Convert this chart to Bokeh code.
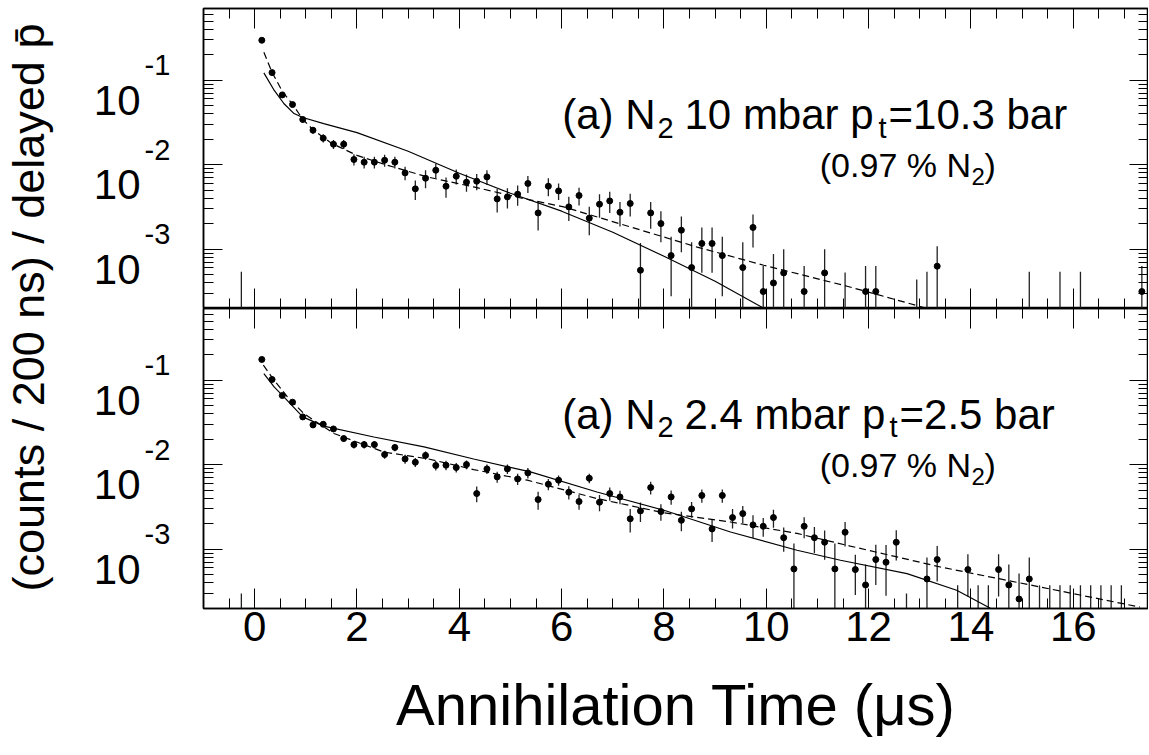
import numpy as np
from math import pi
from bokeh.plotting import figure
from bokeh.models import Range1d, FixedTicker, LinearAxis, LogAxis, Label, CustomJSTickFormatter
from bokeh.core.properties import value
from bokeh.layouts import row, column
from bokeh.embed import file_html
from bokeh.resources import INLINE

FONT = "Liberation Sans"

# ---------------- data: upper panel (N2 10 mbar, pt = 10.3 bar) ----------------
top_t = [0.14, 0.34, 0.54, 0.74, 0.94, 1.14, 1.34, 1.54, 1.74, 1.94,
         2.14, 2.34, 2.54, 2.74, 2.94, 3.14, 3.34, 3.54, 3.74, 3.94,
         4.14, 4.34, 4.54, 4.74, 4.94, 5.14, 5.34, 5.54, 5.74, 5.94,
         6.14, 6.34, 6.54, 6.74, 6.94, 7.14, 7.34, 7.54, 7.74, 7.94,
         8.14, 8.34, 8.54, 8.74, 8.94, 9.14,
         9.54, 9.74, 9.94, 10.14, 10.34, 10.74, 11.14, 11.94, 12.14, 13.34, 17.34]
top_y = [0.297, 0.123, 0.0670, 0.0515, 0.0343, 0.0256, 0.0206, 0.0175, 0.0175, 0.01153,
         0.01072, 0.01072, 0.01130, 0.01072, 0.0080, 0.00518, 0.00692, 0.00861, 0.00557, 0.00731,
         0.00621, 0.00638, 0.00718, 0.00394, 0.00416, 0.00448, 0.00600, 0.00269, 0.00557, 0.00490,
         0.00317, 0.00432, 0.00233, 0.00341, 0.00373, 0.00274, 0.00348, 5.64e-4, 0.00269, 0.00201,
         8.41e-4, 0.00168, 6.07e-4, 0.00117, 0.00117, 8.41e-4,
         6.07e-4, 0.00181, 3.16e-4, 3.99e-4, 5.25e-4, 3.16e-4, 5.25e-4, 3.16e-4, 3.16e-4, 6.30e-4, 3.16e-4]
top_rel_err = [0.03, 0.05, 0.06, 0.07, 0.08, 0.09, 0.11, 0.12, 0.12, 0.15,
               0.16, 0.16, 0.16, 0.16, 0.18, 0.26, 0.24, 0.19, 0.27, 0.20,
               0.23, 0.22, 0.20, 0.31, 0.27, 0.27, 0.23, 0.38, 0.24, 0.22,
               0.32, 0.24, 0.37, 0.31, 0.28, 0.32, 0.30, 1.10, 0.35, 0.40,
               0.67, 0.45, 1.00, 0.55, 0.55, 0.67,
               1.00, 0.42, 1.00, 1.20, 0.90, 1.00, 0.90, 1.00, 1.00, 0.72, 1.00]
# bins with no content: only an upper error bar is visible
top_empty_t = [-0.26, 11.54, 12.94, 13.14, 15.14, 15.74, 16.14]
top_empty_up = [5.4e-4, 5.3e-4, 4.4e-4, 5.4e-4, 5.4e-4, 5.4e-4, 5.4e-4]
# curves
top_solid_t = [0.18, 0.38, 0.57, 0.77, 0.94, 1.35, 2.0, 3.0, 4.0, 5.0, 6.0, 7.0, 8.0, 9.0, 10.0]
top_solid_y = [0.122, 0.0762, 0.0530, 0.0403, 0.0362, 0.0307, 0.0240, 0.01444, 0.00793, 0.00460,
               0.00282, 0.00159, 8.26e-4, 4.18e-4, 1.93e-4]
top_dash_t = [0.18, 0.34, 0.55, 0.74, 0.94, 1.15, 1.5, 2.0, 2.53, 3.37, 4.28, 5.26, 6.04, 7.34,
              8.65, 9.95, 11.58, 12.1, 13.2]
top_dash_y = [0.214, 0.124, 0.0721, 0.052, 0.0345, 0.0256, 0.0180, 0.0129, 0.01013, 0.00718,
              0.00546, 0.00398, 0.00317, 0.00184, 0.00106, 6.47e-4, 3.65e-4, 2.99e-4, 1.95e-4]

# ---------------- data: lower panel (N2 2.4 mbar, pt = 2.5 bar) ----------------
bot_t = [0.14, 0.34, 0.54, 0.74, 0.94, 1.14, 1.34, 1.54, 1.74, 1.94,
         2.14, 2.34, 2.54, 2.74, 2.94, 3.14, 3.34, 3.54, 3.74, 3.94,
         4.14, 4.34, 4.54, 4.74, 4.94, 5.14, 5.34, 5.54, 5.74, 5.94,
         6.14, 6.34, 6.54, 6.74, 6.94, 7.14, 7.34, 7.54, 7.74, 7.94,
         8.14, 8.34, 8.54, 8.74, 8.94, 9.14, 9.34, 9.54, 9.74, 9.94,
         10.14, 10.34, 10.54, 10.74, 10.94, 11.14, 11.34, 11.54, 11.74, 11.94,
         12.14, 12.34, 12.54,
         13.14, 13.34, 13.94, 14.54, 14.74, 14.94, 15.14]
bot_y = [0.176, 0.102, 0.0659, 0.055, 0.0368, 0.0296, 0.0301, 0.0265, 0.0204, 0.0173,
         0.0173, 0.0173, 0.0132, 0.0160, 0.0117, 0.0107, 0.0129, 0.00979, 0.00987, 0.00927,
         0.01005, 0.00456, 0.00892, 0.00718, 0.00892, 0.00679, 0.00800, 0.00387, 0.00588, 0.00656,
         0.00473, 0.00367, 0.00692, 0.00360, 0.00456, 0.00416, 0.00229, 0.00284, 0.00537, 0.00279,
         0.00416, 0.00220, 0.00300, 0.00433, 0.00174, 0.00433, 0.00237, 0.00264, 0.00194, 0.00187,
         0.00237, 0.00137, 5.85e-4, 0.00187, 0.00137, 0.00121, 5.85e-4, 0.00159, 5.75e-4, 3.78e-4,
         7.55e-4, 7.02e-4, 0.00121,
         4.45e-4, 7.55e-4, 5.75e-4, 5.75e-4, 3.78e-4, 2.58e-4, 4.45e-4]
bot_rel_err = [0.03, 0.04, 0.05, 0.05, 0.06, 0.07, 0.07, 0.08, 0.09, 0.10,
               0.10, 0.10, 0.11, 0.10, 0.12, 0.12, 0.11, 0.13, 0.13, 0.13,
               0.12, 0.21, 0.13, 0.15, 0.13, 0.15, 0.14, 0.24, 0.15, 0.14,
               0.18, 0.20, 0.13, 0.22, 0.18, 0.18, 0.31, 0.26, 0.17, 0.22,
               0.19, 0.26, 0.21, 0.18, 0.30, 0.18, 0.26, 0.23, 0.30, 0.25,
               0.24, 0.32, 1.00, 0.28, 0.34, 0.38, 1.00, 0.32, 0.50, 0.75,
               0.50, 0.60, 0.39,
               0.80, 0.45, 0.52, 0.52, 0.75, 1.00, 0.80]
bot_empty_t = [-0.26, 12.74, 13.74, 14.14, 14.34, 15.34, 15.54, 15.74, 15.94, 16.14, 16.34, 16.54, 16.74, 16.94]
bot_empty_up = [3.0e-4, 3.0e-4, 3.75e-4, 3.75e-4, 3.75e-4, 3.75e-4, 3.75e-4, 3.75e-4, 3.75e-4,
                3.75e-4, 3.75e-4, 3.75e-4, 3.75e-4, 3.75e-4]
bot_solid_t = [0.18, 0.38, 0.57, 0.94, 1.35, 2.33, 3.31, 4.28, 5.39, 6.69, 8.0, 9.3, 10.6, 11.45,
               12.75, 13.72, 14.38]
bot_solid_y = [0.12, 0.0834, 0.0636, 0.0368, 0.0286, 0.0213, 0.0163, 0.0117, 0.00822, 0.00476,
               0.00289, 0.0016, 9.72e-4, 7.41e-4, 5.15e-4, 3.27e-4, 2.0e-4]
bot_dash_t = [0.17, 0.38, 0.64, 0.96, 1.55, 2.53, 3.37, 4.28, 5.33, 6.69, 8.0, 9.3, 10.6, 11.64,
              13.4, 15.35, 17.3]
bot_dash_y = [0.151, 0.1, 0.0636, 0.0403, 0.0234, 0.0141, 0.0118, 0.00877, 0.00656, 0.00398,
              0.00270, 0.0021, 0.00154, 0.00109, 6.17e-4, 3.58e-4, 2.07e-4]

# ---------------- axes / labels ----------------
x_major_ticks = [0, 2, 4, 6, 8, 10, 12, 14, 16]
x_minor_ticks = [v * 0.5 for v in range(-2, 36)]
y_major_ticks = [1e-3, 1e-2, 1e-1]
y_tick_base = ["10", "10", "10"]
y_tick_exponents = ["-3", "-2", "-1"]
y_minor_ticks = [m * 10.0 ** e for e in (-4, -3, -2, -1) for m in range(2, 10)]
x_title = "Annihilation Time (\u03bcs)"
y_title = "(counts / 200 ns) / delayed p\u0304"

# text pieces: (text, page x, drop below baseline, font px)
top_text = [("(a) N", 561.7, 0, 42), ("2", 657, 13, 29), ("10 mbar p", 684, 0, 42),
            ("t", 878, 13, 29), ("=10.3 bar", 888, 0, 42)]
bot_text = [("(a) N", 561.7, 0, 42), ("2", 657, 13, 29), ("2.4 mbar p", 684, 0, 42),
            ("t", 889, 13, 29), ("=2.5 bar", 899, 0, 42)]
sub_text = [("(0.97 % N", 819.3, 0, 34), ("2", 971, 12, 24), (")", 984, 0, 34)]

Y_LO, Y_HI = 1.99e-4, 0.7056
X_RANGE = Range1d(-1.0, 17.47)
TITLE_W = 63          # page x 0..63   : y-axis title
LAB_W = 135           # page x 63..198 : tick labels 10^n
FRAME_LEFT = 203      # page x of the plot frame's left edge
TOP_PAD = 8


def style_axis(ax, major_in, minor_in, labels=False):
    ax.axis_line_color = "black"
    ax.axis_line_width = 1.5
    ax.major_tick_line_color = "black"
    ax.minor_tick_line_color = "black"
    ax.major_tick_line_width = 1
    ax.minor_tick_line_width = 1
    ax.major_tick_in = major_in
    ax.major_tick_out = 0
    ax.minor_tick_in = minor_in
    ax.minor_tick_out = 0
    if not labels:
        ax.formatter = CustomJSTickFormatter(code="return ''")
        ax.major_label_text_font_size = "0px"
        ax.major_label_standoff = 0


def make_panel(t, y, rel, et, eup, st, sy, dt, dy, line1, base1, base2, frame_top, bottom):
    p = figure(width=FRAME_LEFT - TITLE_W - LAB_W + 945, frame_height=300, x_range=X_RANGE,
               y_range=Range1d(Y_LO, Y_HI), y_axis_type="log", output_backend="svg",
               toolbar_location=None, min_border_left=FRAME_LEFT - TITLE_W - LAB_W,
               min_border_right=0, min_border_top=TOP_PAD if not bottom else 0,
               min_border_bottom=0, background_fill_color="white", border_fill_color="white")
    p.xgrid.visible = False
    p.ygrid.visible = False
    p.outline_line_color = "black"
    p.outline_line_width = 1.5

    xt = FixedTicker(ticks=x_major_ticks, minor_ticks=x_minor_ticks)
    yt = FixedTicker(ticks=y_major_ticks, minor_ticks=y_minor_ticks)

    p.xaxis.ticker = xt
    style_axis(p.xaxis[0], 20, 10, labels=bottom)
    if bottom:
        p.xaxis.major_label_text_font = FONT
        p.xaxis.major_label_text_font_size = "42px"
        p.xaxis.major_label_text_color = "black"
        p.xaxis.major_label_standoff = 3
        p.xaxis.axis_label = x_title
        p.xaxis.axis_label_text_font = FONT
        p.xaxis.axis_label_text_font_size = "58px"
        p.xaxis.axis_label_text_font_style = "normal"
        p.xaxis.axis_label_text_color = "black"
        p.xaxis.axis_label_standoff = 28
    p.yaxis.ticker = yt
    style_axis(p.yaxis[0], 19, 10)

    top_ax = LinearAxis(ticker=xt)
    style_axis(top_ax, 20, 10)
    p.add_layout(top_ax, "above")
    right_ax = LogAxis(ticker=yt)
    style_axis(right_ax, 19, 10)
    p.add_layout(right_ax, "right")

    # data
    t = np.asarray(t, float)
    y = np.asarray(y, float)
    r = np.asarray(rel, float)
    lo = np.clip(y * (1 - r), 1e-7, None)
    hi = y * (1 + r)
    p.segment(x0=t, y0=lo, x1=t, y1=hi, line_color="#222222", line_width=1.3)
    p.segment(x0=et, y0=[1e-7] * len(et), x1=et, y1=eup, line_color="#222222", line_width=1.3)
    p.line(st, sy, line_color="black", line_width=1.2)
    p.line(dt, dy, line_color="black", line_width=1.2, line_dash="7 4")
    p.scatter(t, y, size=6, color="black")

    # panel annotations (inside the frame)
    for pieces, base in ((line1, base1), (sub_text, base2)):
        for txt, px, drop, fs in pieces:
            p.add_layout(Label(x=px - FRAME_LEFT, y=(frame_top + 300) - (base + drop),
                               x_units="screen", y_units="screen", text=txt,
                               text_align="left", text_baseline="alphabetic",
                               text_font=FONT, text_font_size=f"{fs}px", text_color="black"))
    return p


def make_tick_labels(pad_top):
    f = figure(width=LAB_W, frame_height=300, x_range=Range1d(TITLE_W, TITLE_W + LAB_W),
               y_range=Range1d(Y_LO, Y_HI), y_axis_type="log", output_backend="svg",
               toolbar_location=None, x_axis_location=None, y_axis_location=None,
               min_border_left=0, min_border_right=0, min_border_top=pad_top, min_border_bottom=0,
               outline_line_color=None, background_fill_color="white", border_fill_color="white")
    f.xgrid.visible = False
    f.ygrid.visible = False
    n = len(y_major_ticks)
    f.text(x=[140] * n, y=y_major_ticks, text=y_tick_base, text_align="right",
           text_baseline="alphabetic", y_offset=20, text_font=value(FONT),
           text_font_size="42px", text_color="black")
    f.text(x=[144] * n, y=y_major_ticks, text=y_tick_exponents, text_align="left",
           text_baseline="alphabetic", y_offset=-15, text_font=value(FONT),
           text_font_size="29px", text_color="black")
    return f


top = make_panel(top_t, top_y, top_rel_err, top_empty_t, top_empty_up,
                 top_solid_t, top_solid_y, top_dash_t, top_dash_y,
                 top_text, 114, 164.3, TOP_PAD, bottom=False)
bot = make_panel(bot_t, bot_y, bot_rel_err, bot_empty_t, bot_empty_up,
                 bot_solid_t, bot_solid_y, bot_dash_t, bot_dash_y,
                 bot_text, 413.5, 464.3, TOP_PAD + 300, bottom=True)
lab_top = make_tick_labels(TOP_PAD)
lab_bot = make_tick_labels(0)

# y-axis title spanning both panels
TTL_H = 616
ttl = figure(width=TITLE_W, height=TTL_H, x_range=Range1d(0, TITLE_W), y_range=Range1d(0, TTL_H),
             output_backend="svg", toolbar_location=None, x_axis_location=None,
             y_axis_location=None, min_border=0, outline_line_color=None,
             background_fill_color="white", border_fill_color="white")
ttl.xgrid.visible = False
ttl.ygrid.visible = False
ttl.add_layout(Label(x=28, y=TTL_H - 307, x_units="screen", y_units="screen", text=y_title,
                     angle=pi / 2, text_align="center", text_baseline="middle", text_font=FONT,
                     text_font_size="45px", text_color="black"))

layout = row(ttl, column(lab_top, lab_bot), column(top, bot))
open("out.html", "w").write(file_html(layout, INLINE))
